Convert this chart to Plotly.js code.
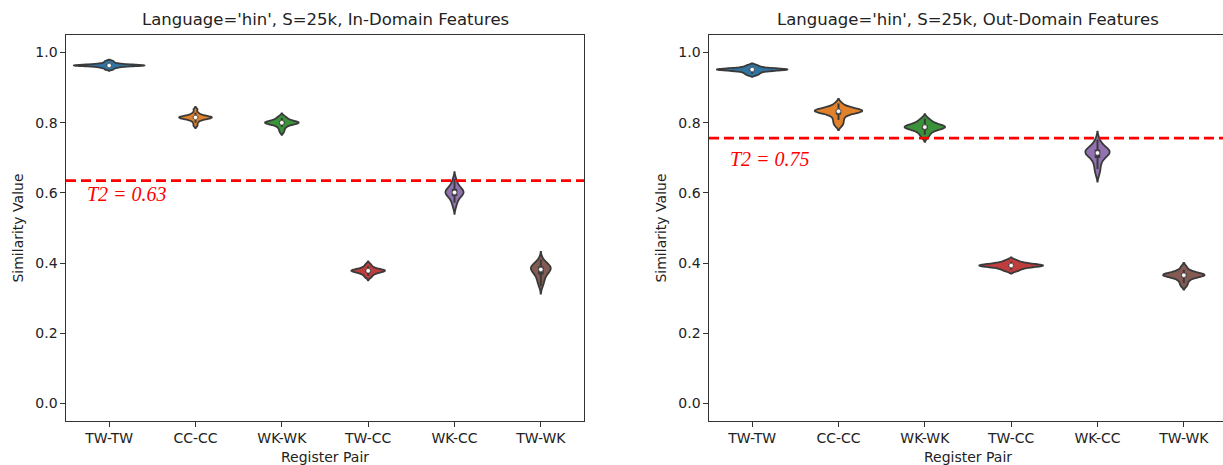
<!DOCTYPE html>
<html><head><meta charset="utf-8">
<script src="https://cdn.plot.ly/plotly-3.0.1.min.js"></script>
<style>html,body{margin:0;padding:0;overflow:hidden;background:#fff}#chart{width:1240px;height:465px}</style>
</head><body><div id="chart"></div>
<script>
// ---------- data ----------
const categories = ['TW-TW', 'CC-CC', 'WK-WK', 'TW-CC', 'WK-CC', 'TW-WK'];
const panelTitles = ["Language='hin', S=25k, In-Domain Features", "Language='hin', S=25k, Out-Domain Features"];
const xAxisLabel = 'Register Pair';
const yAxisLabel = 'Similarity Value';
const yTickValues = [0.0, 0.2, 0.4, 0.6, 0.8, 1.0];
const thresholds = [0.635, 0.756];
const thresholdLabels = ['T2 = 0.63', 'T2 = 0.75'];

// In-domain similarity samples
const inTWTW = [0.952, 0.956, 0.958, 0.960, 0.961, 0.962, 0.962, 0.963, 0.963, 0.963, 0.964, 0.964, 0.964, 0.965, 0.966, 0.967, 0.969, 0.972, 0.976];
const inCCCC = [0.792, 0.800, 0.806, 0.809, 0.811, 0.812, 0.813, 0.814, 0.815, 0.815, 0.816, 0.817, 0.818, 0.819, 0.821, 0.824, 0.829, 0.838];
const inWKWK = [0.774, 0.782, 0.788, 0.792, 0.795, 0.797, 0.798, 0.799, 0.800, 0.800, 0.801, 0.802, 0.803, 0.805, 0.807, 0.810, 0.814, 0.818];
const inTWCC = [0.359, 0.364, 0.368, 0.371, 0.373, 0.375, 0.376, 0.377, 0.378, 0.378, 0.379, 0.380, 0.381, 0.382, 0.384, 0.387, 0.391, 0.397];
const inWKCC = [0.560, 0.572, 0.580, 0.586, 0.590, 0.594, 0.597, 0.599, 0.601, 0.602, 0.604, 0.606, 0.609, 0.612, 0.616, 0.621, 0.629, 0.640];
const inTWWK = [0.335, 0.345, 0.352, 0.360, 0.366, 0.371, 0.375, 0.378, 0.381, 0.383, 0.385, 0.387, 0.389, 0.391, 0.393, 0.396, 0.400, 0.410];

// Out-domain similarity samples
const outTWTW = [0.936, 0.940, 0.943, 0.946, 0.948, 0.949, 0.950, 0.951, 0.951, 0.952, 0.952, 0.953, 0.953, 0.954, 0.955, 0.957, 0.960, 0.964];
const outCCCC = [0.792, 0.800, 0.808, 0.815, 0.822, 0.827, 0.829, 0.831, 0.832, 0.833, 0.834, 0.835, 0.836, 0.837, 0.839, 0.842, 0.847, 0.855];
const outWKWK = [0.758, 0.766, 0.772, 0.777, 0.780, 0.783, 0.785, 0.786, 0.787, 0.788, 0.789, 0.790, 0.792, 0.794, 0.797, 0.801, 0.806, 0.812];
const outTWCC = [0.377, 0.381, 0.384, 0.387, 0.389, 0.390, 0.391, 0.392, 0.393, 0.393, 0.394, 0.395, 0.396, 0.397, 0.399, 0.401, 0.404, 0.409];
const outWKCC = [0.655, 0.668, 0.680, 0.690, 0.698, 0.704, 0.708, 0.711, 0.713, 0.715, 0.717, 0.719, 0.721, 0.724, 0.727, 0.731, 0.738, 0.752];
const outTWWK = [0.335, 0.343, 0.350, 0.355, 0.359, 0.361, 0.363, 0.364, 0.365, 0.366, 0.367, 0.368, 0.369, 0.371, 0.373, 0.376, 0.381, 0.390];

const panels = [
  [inTWTW, inCCCC, inWKWK, inTWCC, inWKCC, inTWWK],
  [outTWTW, outCCCC, outWKWK, outTWCC, outWKCC, outTWWK]
];

// ---------- styles ----------
const fills = ['#3274a1', '#e1812c', '#3a923a', '#c03d3e', '#9372b2', '#845b53'];
const gray = '#3a3a3a';
const violinWidths = [
  [0.82, 0.38, 0.39, 0.39, 0.21, 0.23],
  [0.82, 0.55, 0.47, 0.74, 0.28, 0.48]
];
const FONT = 'DejaVu Sans, sans-serif';
const TXT = '#222222';

function quantile(arr, p) {
  const s = arr.slice().sort((a, b) => a - b);
  const pos = (s.length - 1) * p;
  const lo = Math.floor(pos), hi = Math.ceil(pos);
  return s[lo] + (s[hi] - s[lo]) * (pos - lo);
}

const traces = [];
panels.forEach((series, pi) => {
  const xa = pi === 0 ? 'x' : 'x2';
  const ya = pi === 0 ? 'y' : 'y2';
  series.forEach((vals, ci) => {
    const cat = categories[ci];
    traces.push({
      type: 'violin', x: vals.map(() => cat), y: vals, xaxis: xa, yaxis: ya,
      scalegroup: 'p' + pi + 'c' + ci, scalemode: 'width', width: violinWidths[pi][ci],
      spanmode: 'soft', points: false, box: {visible: false}, meanline: {visible: false},
      fillcolor: fills[ci], line: {color: gray, width: 1.8}, opacity: 1,
      showlegend: false, hoverinfo: 'y', name: cat
    });
  });
  // inner box (seaborn style), computed from samples
  series.forEach((vals, ci) => {
    const cat = categories[ci];
    const q1 = quantile(vals, 0.25), q2 = quantile(vals, 0.5), q3 = quantile(vals, 0.75);
    const lim = 1.5 * (q3 - q1);
    const h1 = Math.min(...vals.filter(v => v >= q1 - lim));
    const h2 = Math.max(...vals.filter(v => v <= q3 + lim));
    traces.push({type: 'scatter', mode: 'lines', x: [cat, cat], y: [h1, h2], xaxis: xa, yaxis: ya,
      line: {color: gray, width: 2}, showlegend: false, hoverinfo: 'skip'});
    traces.push({type: 'scatter', mode: 'lines', x: [cat, cat], y: [q1, q3], xaxis: xa, yaxis: ya,
      line: {color: gray, width: 5.5}, showlegend: false, hoverinfo: 'skip'});
    traces.push({type: 'scatter', mode: 'markers', x: [cat], y: [q2], xaxis: xa, yaxis: ya,
      marker: {color: 'white', size: 4.5, line: {color: gray, width: 0.6}}, showlegend: false, hoverinfo: 'skip'});
  });
});

function xAxis(domain, anchor) {
  return {
    domain: domain, anchor: anchor, type: 'category', categoryorder: 'array', categoryarray: categories,
    range: [-0.5, 5.5], showline: true, mirror: true, linecolor: '#333', linewidth: 1.1,
    ticks: 'outside', ticklen: 4.5, tickcolor: '#333', tickwidth: 1, showgrid: false, zeroline: false,
    tickfont: {family: FONT, size: 14, color: TXT},
    title: {text: xAxisLabel, font: {family: FONT, size: 14, color: TXT}, standoff: 6},
    automargin: false
  };
}
function yAxis(domain, anchor) {
  return {
    domain: domain, anchor: anchor, range: [-0.05, 1.05], tickvals: yTickValues, tickformat: '.1f',
    showline: true, mirror: true, linecolor: '#333', linewidth: 1.1,
    ticks: 'outside', ticklen: 4.5, tickcolor: '#333', tickwidth: 1, showgrid: false, zeroline: false,
    tickfont: {family: FONT, size: 14, color: TXT},
    title: {text: yAxisLabel, font: {family: FONT, size: 14, color: TXT}, standoff: 8},
    automargin: false
  };
}

const shapes = [], annotations = [];
thresholds.forEach((t, pi) => {
  const xr = pi === 0 ? 'x' : 'x2', yr = pi === 0 ? 'y' : 'y2';
  shapes.push({type: 'line', xref: xr + ' domain', x0: 0, x1: 1, yref: yr, y0: t, y1: t,
    line: {color: '#ff0000', width: 2.6, dash: '10px,5px'}, layer: 'above'});
  annotations.push({xref: xr + ' domain', x: 0.0367, xanchor: 'left', yref: yr, y: pi === 0 ? t - 0.037 : t - 0.058,
    yanchor: 'middle', text: thresholdLabels[pi], showarrow: false,
    font: {family: 'Liberation Serif, Times New Roman, serif', size: 20, color: '#ff0000', style: 'italic'}});
  annotations.push({xref: xr + ' domain', x: 0.5, xanchor: 'center', yref: yr + ' domain', y: 1, yanchor: 'middle',
    yshift: 16, text: panelTitles[pi], showarrow: false, font: {family: FONT, size: 16.5, color: TXT}});
});

const layout = {
  width: 1240, height: 465, margin: {l: 66, r: 13, t: 35, b: 44},
  paper_bgcolor: '#fff', plot_bgcolor: '#fff', violinmode: 'overlay', showlegend: false,
  font: {family: FONT, color: TXT},
  xaxis: xAxis([0, 0.44617], 'y'), yaxis: yAxis([0, 1], 'x'),
  xaxis2: xAxis([0.55383, 1], 'y2'), yaxis2: yAxis([0, 1], 'x2'),
  shapes: shapes, annotations: annotations
};

Plotly.newPlot('chart', traces, layout, {staticPlot: true, displayModeBar: false});
</script>
</body></html>
